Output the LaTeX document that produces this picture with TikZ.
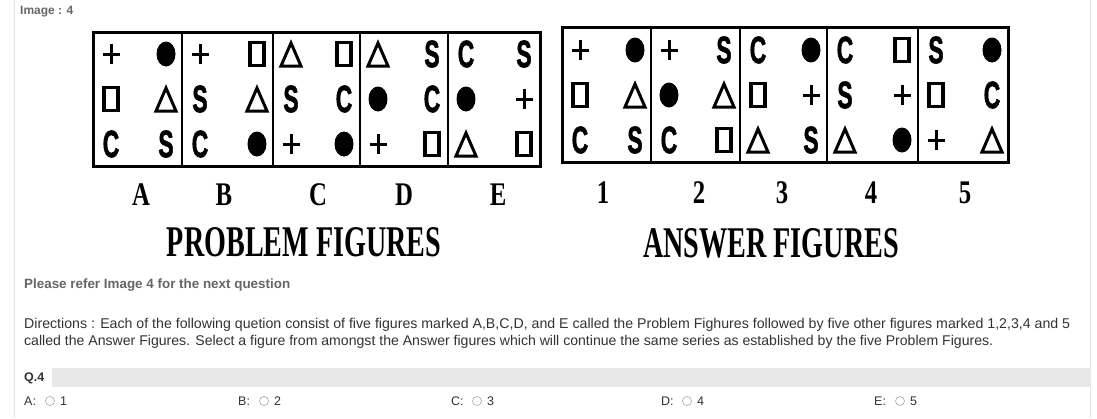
\documentclass[tikz,border=0pt]{standalone}
\usepackage{fontspec}
\setmainfont{Liberation Serif}
\setsansfont{Liberation Sans}
\newfontfamily\glyphfont{Liberation Sans}[FakeBold=2]
\usepackage{graphicx}
\definecolor{webtxt}{HTML}{333333}
\definecolor{webgray}{HTML}{666666}
\definecolor{barbg}{HTML}{E8E8E8}
\definecolor{edge}{HTML}{E2E2E2}
\newcommand\glyphtxt[1]{\scalebox{0.6}[1]{\fontsize{38}{38}\selectfont\glyphfont\bfseries #1}}
\newcommand\labtxt[1]{\scalebox{0.75}[1]{\fontsize{33}{33}\selectfont\rmfamily\bfseries #1}}
\begin{document}
\begin{tikzpicture}[x=1pt,y=-1pt,
  pics/plus/.style={code={\draw[line width=3pt] (-8.5,0)--(8.5,0) (0,-10)--(0,10);}},
  pics/dot/.style={code={\fill (0,0) ellipse [x radius=9.5pt, y radius=12.5pt];}},
  pics/sq/.style={code={\draw[line width=3.2pt] (-7,-11.5) rectangle (7,11.5);}},
  pics/tri/.style={code={\draw[line width=3pt,line join=miter] (-10,12)--(0,-11)--(10,12)--cycle;}},
  pics/C/.style={code={\node[inner sep=0] {\glyphtxt{C}};}},
  pics/S/.style={code={\node[inner sep=0] {\glyphtxt{S}};}},
  cellbox/.style={line width=2pt},
  outerbox/.style={line width=3pt},
  lab/.style={inner sep=0},
  web/.style={inner sep=0, anchor=west, text=webtxt, font=\fontsize{12.5}{12.5}\selectfont\sffamily},
  radio/.style={circle, draw=gray!70, line width=0.6pt, inner sep=0, minimum size=9pt}
]
\useasboundingbox (0,0) rectangle (1097,418);
\fill[white] (0,0) rectangle (1097,418);
\draw[edge, line width=1pt] (14,0) -- (14,418);
\draw[edge, line width=1pt] (1090,0) -- (1090,418);

\node[web, text=webgray, font=\fontsize{12}{12}\selectfont\sffamily\bfseries] (imglab) at (20,12) {Image : 4};

% problem figures
\foreach \xl/\xr/\lab/\lx/\s in {
  93/182/A/141/{plus,dot,sq,tri,C,S},
  182/273/B/224/{plus,sq,S,tri,C,dot},
  273/360/C/318/{tri,sq,S,C,plus,dot},
  360/448/D/404/{tri,S,dot,C,plus,sq},
  448/540/E/498/{C,S,dot,plus,tri,sq}}{
  \draw[cellbox] (\xl,32) rectangle (\xr,166);
  \foreach \sy [count=\i from 0] in \s {
    \pgfmathsetmacro\px{mod(\i,2)==0 ? \xl+18 : \xr-16}
    \pgfmathsetmacro\py{54+45*int(\i/2)}
    \pic (p\lab\i) at (\px,\py) {\sy};
  }
  \node[lab] (lab\lab) at (\lx,195) {\labtxt{\lab}};
}
\draw[outerbox] (93,32) rectangle (540,166);

% answer figures
\foreach \xl/\xr/\lab/\lx/\s in {
  562/651/1/603/{plus,dot,sq,tri,C,S},
  651/740/2/699/{plus,S,dot,tri,C,sq},
  740/827/3/782/{C,dot,sq,plus,tri,S},
  827/918/4/871/{C,sq,S,plus,tri,dot},
  918/1008/5/965/{S,dot,sq,C,plus,tri}}{
  \draw[cellbox] (\xl,27) rectangle (\xr,162);
  \foreach \sy [count=\i from 0] in \s {
    \pgfmathsetmacro\px{mod(\i,2)==0 ? \xl+18 : \xr-16}
    \pgfmathsetmacro\py{50+45*int(\i/2)}
    \pic (a\lab\i) at (\px,\py) {\sy};
  }
  \node[lab] (lab\lab) at (\lx,193) {\labtxt{\lab}};
}
\draw[outerbox] (562,27) rectangle (1008,162);

\node[lab] (probhead) at (304,242) {\resizebox{274pt}{29pt}{\rmfamily\bfseries PROBLEM FIGURES}};
\node[lab] (anshead) at (771,243) {\resizebox{256pt}{29pt}{\rmfamily\bfseries ANSWER FIGURES}};

\node[web, text=webgray] (refer) at (24,285) {\resizebox{266pt}{!}{\bfseries Please refer Image 4 for the next question}};
\node[web] (dir1) at (24,325) {\resizebox{1046pt}{!}{Directions : Each of the following quetion consist of five figures marked A,B,C,D, and E called the Problem Fighures followed by five other figures marked 1,2,3,4 and 5}};
\node[web] (dir2) at (24,342) {\resizebox{969pt}{!}{called the Answer Figures. Select a figure from amongst the Answer figures which will continue the same series as established by the five Problem Figures.}};

\fill[barbg] (52,368) rectangle (1091,387);
\node[web, font=\fontsize{12.5}{12.5}\selectfont\sffamily\bfseries] (q4) at (24,378) {Q.4};

\foreach \ox/\cx/\nx/\ol/\num in {24/50/60/A/1, 238/264/274/B/2, 451/477/487/C/3, 661/687/697/D/4, 874/900/910/E/5}{
  \node[web] (opt\ol) at (\ox,401) {\ol:};
  \node[radio] (rad\ol) at (\cx,401) {};
  \node[web] (num\ol) at (\nx,401) {\num};
}
\end{tikzpicture}
\end{document}
